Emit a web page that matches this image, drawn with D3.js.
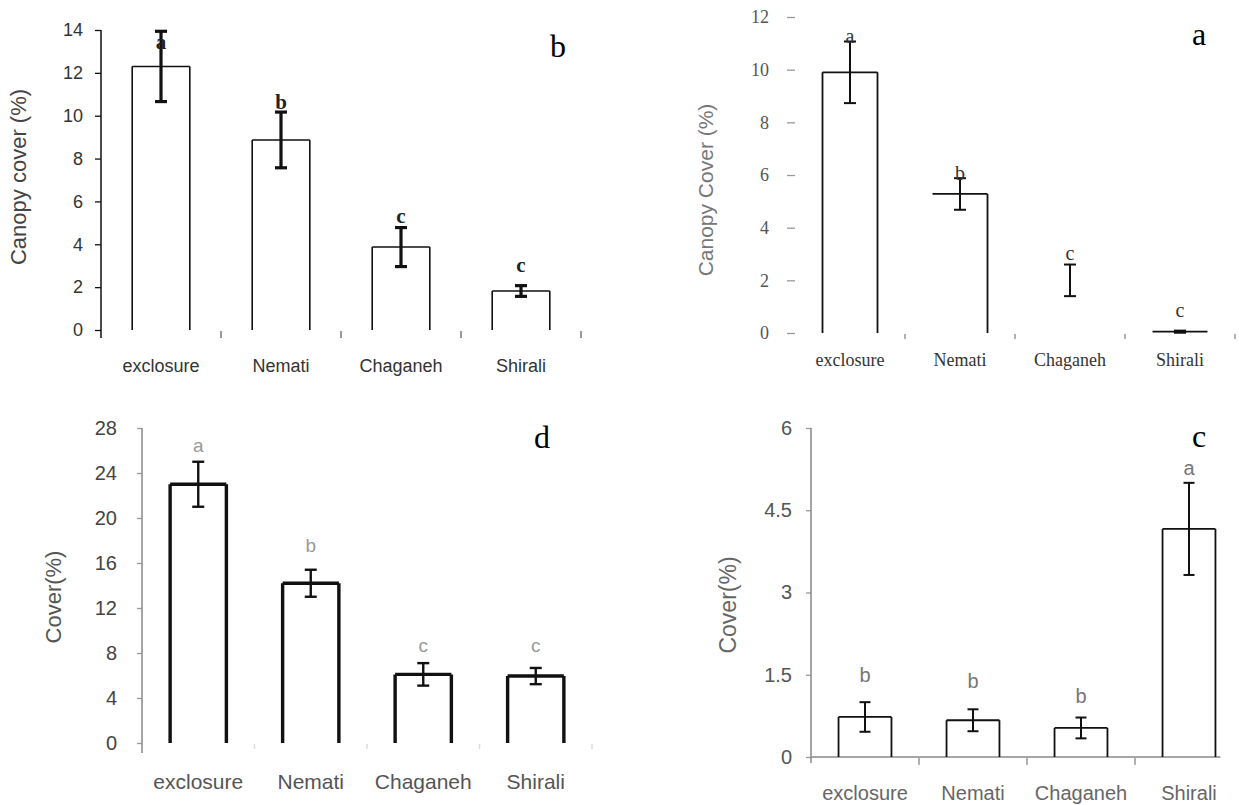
<!DOCTYPE html>
<html>
<head>
<meta charset="utf-8">
<script src="https://cdn.jsdelivr.net/npm/d3@7"></script>
<style>
  html, body { margin: 0; padding: 0; background: #fff; }
  svg { display: block; }
</style>
</head>
<body>
<svg id="chart" width="1239" height="805"></svg>
<script>
// ---------------- data ----------------
const categories = ["exclosure", "Nemati", "Chaganeh", "Shirali"];

// panel b (top-left): canopy cover
const coverB   = [12.3, 8.87, 3.87, 1.82];
const errB     = [1.64, 1.30, 0.91, 0.25];
const lettersB = ["a", "b", "c", "c"];
const letterAtB = [13.1, 10.3, 5.0, 2.7];
const ticksB   = [0, 2, 4, 6, 8, 10, 12, 14];

// panel a (top-right): canopy cover
const coverA   = [9.9, 5.28, 2.0, 0.05];
const errA     = [1.17, 0.60, 0.60, 0.04];
const lettersA = ["a", "b", "c", "c"];
const letterAtA = [11.0, 5.8, 2.77, 0.61];
const ticksA   = [0, 2, 4, 6, 8, 10, 12];

// panel d (bottom-left): cover
const coverD   = [23.0, 14.2, 6.1, 5.95];
const errD     = [2.0, 1.2, 1.0, 0.72];
const lettersD = ["a", "b", "c", "c"];
const letterAtD = [25.9, 17.0, 8.1, 8.1];
const ticksD   = [0, 4, 8, 12, 16, 20, 24, 28];

// panel c (bottom-right): cover
const coverC   = [0.73, 0.67, 0.53, 4.16];
const errC     = [0.27, 0.20, 0.19, 0.84];
const lettersC = ["b", "b", "b", "a"];
const letterAtC = [1.37, 1.26, 0.99, 5.15];
const ticksC   = [0, 1.5, 3, 4.5, 6];

// ---------------- layout / styles ----------------
const SANS = "'Liberation Sans', Arial, sans-serif";
const SERIF = "'Liberation Serif', 'Times New Roman', serif";

const panels = [
  { tag: "b", values: coverB, errors: errB, letters: lettersB, letterAt: letterAtB, ticks: ticksB,
    yTitle: "Canopy cover (%)",
    left: 101, right: 581, top: 30, base: 330, barFrac: 0.48,
    axisLine: "#111", axisExtBelow: 8, tickLen: 6, tickPad: 12, tickColor: "#111",
    tickFont: SANS, tickSize: 18, tickText: "#333",
    xTickColor: "#777", xTickLen: 8, xAxisLine: null,
    xLabelY: 367, xLabelFont: SANS, xLabelSize: 18, xLabelColor: "#333",
    titleX: 20, titleY: 177, titleSize: 22, titleColor: "#444", titleFont: SANS,
    barStroke: 1.6, edges: ["ltr", "ltr", "ltr", "ltr"],
    errStroke: 3.2, capW: 12, errColor: "#111",
    letterFont: SERIF, letterSize: 21, letterColor: "#222", letterWeight: "bold",
    panelX: 558, panelY: 57 },
  { tag: "a", values: coverA, errors: errA, letters: lettersA, letterAt: letterAtA, ticks: ticksA,
    yTitle: "Canopy Cover (%)",
    left: 795, right: 1235, top: 17, base: 333, barFrac: 0.5,
    axisLine: null, axisExtBelow: 0, tickLen: 8, tickPad: 18, tickColor: "#999",
    tickFont: SERIF, tickSize: 18, tickText: "#555",
    xTickColor: "#999", xTickLen: 6, xAxisLine: null,
    xLabelY: 362, xLabelFont: SERIF, xLabelSize: 18, xLabelColor: "#333",
    titleX: 707, titleY: 190, titleSize: 21, titleColor: "#777", titleFont: SANS,
    barStroke: 1.8, edges: ["ltr", "tr", "", "t"],
    errStroke: 2, capW: 12, errColor: "#111",
    letterFont: SERIF, letterSize: 20, letterColor: "#333", letterWeight: "normal",
    panelX: 1199, panelY: 45 },
  { tag: "d", values: coverD, errors: errD, letters: lettersD, letterAt: letterAtD, ticks: ticksD,
    yTitle: "Cover(%)",
    left: 142, right: 592, top: 428, base: 743, barFrac: 0.5,
    axisLine: "#888", axisExtBelow: 10, tickLen: 5, tickPad: 20, tickColor: "#999",
    tickFont: SANS, tickSize: 20, tickText: "#444",
    xTickColor: "#ddd", xTickLen: 6, xAxisLine: null,
    xLabelY: 783, xLabelFont: SANS, xLabelSize: 21, xLabelColor: "#555",
    titleX: 55, titleY: 597, titleSize: 22, titleColor: "#555", titleFont: SANS,
    barStroke: 3.4, edges: ["ltr", "ltr", "ltr", "ltr"],
    errStroke: 2.4, capW: 12, errColor: "#111",
    letterFont: SANS, letterSize: 19, letterColor: "#999", letterWeight: "normal",
    panelX: 542, panelY: 448 },
  { tag: "c", values: coverC, errors: errC, letters: lettersC, letterAt: letterAtC, ticks: ticksC,
    yTitle: "Cover(%)",
    left: 811, right: 1243, top: 428, base: 757, barFrac: 0.49,
    axisLine: "#888", axisExtBelow: 6, tickLen: 5, tickPad: 14, tickColor: "#999",
    tickFont: SANS, tickSize: 20, tickText: "#555",
    xTickColor: "#999", xTickLen: 8, xAxisLine: "#888",
    xLabelY: 795, xLabelFont: SANS, xLabelSize: 20, xLabelColor: "#666",
    titleX: 730, titleY: 605, titleSize: 23, titleColor: "#666", titleFont: SANS,
    barStroke: 1.8, edges: ["ltr", "ltr", "ltr", "ltr"],
    errStroke: 2, capW: 11, errColor: "#111",
    letterFont: SANS, letterSize: 20, letterColor: "#777", letterWeight: "normal",
    panelX: 1199, panelY: 447 }
];

const svg = d3.select("#chart");
svg.append("rect").attr("width", 1239).attr("height", 805).attr("fill", "#fff");

function drawPanel(p) {
  const g = svg.append("g").attr("class", "panel-" + p.tag);
  const x = d3.scaleBand().domain(categories).range([p.left, p.right]).padding(0);
  const y = d3.scaleLinear().domain([0, d3.max(p.ticks)]).range([p.base, p.top]);
  const bw = x.bandwidth() * p.barFrac;
  const cx = c => x(c) + x.bandwidth() / 2;

  // y axis
  const yAxis = d3.axisLeft(y)
    .tickValues(p.ticks)
    .tickSize(p.tickLen)
    .tickSizeOuter(0)
    .tickPadding(p.tickPad)
    .tickFormat(d => String(d));
  const ya = g.append("g").attr("transform", `translate(${p.left},0)`).call(yAxis);
  ya.select(".domain").remove();
  ya.selectAll(".tick line").attr("stroke", p.tickColor).attr("stroke-width", 1.3);
  ya.selectAll(".tick text")
    .attr("font-family", p.tickFont).attr("font-size", p.tickSize)
    .attr("fill", p.tickText);
  if (p.axisLine) {
    g.append("line")
      .attr("x1", p.left).attr("x2", p.left)
      .attr("y1", y(d3.max(p.ticks))).attr("y2", y(0) + p.axisExtBelow)
      .attr("stroke", p.axisLine).attr("stroke-width", 1.5);
  }

  // x axis baseline (only where the original shows it)
  const lastRight = cx(categories[categories.length - 1]) + bw / 2 + 5;
  if (p.xAxisLine) {
    g.append("line")
      .attr("x1", p.left).attr("x2", lastRight)
      .attr("y1", y(0)).attr("y2", y(0))
      .attr("stroke", p.xAxisLine).attr("stroke-width", 1.5);
  }
  // category boundary ticks
  g.selectAll(".xtick").data(categories).join("line")
    .attr("class", "xtick")
    .attr("x1", c => x(c) + x.bandwidth()).attr("x2", c => x(c) + x.bandwidth())
    .attr("y1", y(0) + 1).attr("y2", y(0) + p.xTickLen)
    .attr("stroke", p.xTickColor).attr("stroke-width", 1.5);

  // x labels
  g.selectAll(".xlab").data(categories).join("text")
    .attr("class", "xlab")
    .attr("x", c => cx(c)).attr("y", p.xLabelY)
    .attr("text-anchor", "middle").attr("dominant-baseline", "middle")
    .attr("font-family", p.xLabelFont).attr("font-size", p.xLabelSize)
    .attr("fill", p.xLabelColor)
    .text(c => c);

  // y title
  g.append("text")
    .attr("transform", `translate(${p.titleX},${p.titleY}) rotate(-90)`)
    .attr("text-anchor", "middle").attr("dominant-baseline", "middle")
    .attr("font-family", p.titleFont).attr("font-size", p.titleSize)
    .attr("fill", p.titleColor)
    .text(p.yTitle);

  // bars (open rectangles, bottom edge not drawn)
  g.selectAll(".bar").data(categories).join("path")
    .attr("class", "bar")
    .attr("fill", "none").attr("stroke", "#111").attr("stroke-width", p.barStroke)
    .attr("d", (c, i) => {
      const x0 = cx(c) - bw / 2, x1 = cx(c) + bw / 2;
      const y0 = y(0), y1 = y(p.values[i]);
      const e = p.edges[i];
      let d = "";
      if (e.includes("l")) d += `M${x0},${y0}L${x0},${y1}`;
      if (e.includes("t")) d += `M${x0},${y1}L${x1},${y1}`;
      if (e.includes("r")) d += `M${x1},${y1}L${x1},${y0}`;
      return d || "M0,0";
    })
    .attr("stroke-opacity", (c, i) => p.edges[i] ? 1 : 0);

  // error bars
  const eg = g.selectAll(".err").data(categories).join("g").attr("class", "err")
    .attr("stroke", p.errColor).attr("stroke-width", p.errStroke);
  eg.append("line")
    .attr("x1", c => cx(c)).attr("x2", c => cx(c))
    .attr("y1", (c, i) => y(p.values[i] + p.errors[i]))
    .attr("y2", (c, i) => y(Math.max(0, p.values[i] - p.errors[i])));
  eg.append("line")
    .attr("x1", c => cx(c) - p.capW / 2).attr("x2", c => cx(c) + p.capW / 2)
    .attr("y1", (c, i) => y(p.values[i] + p.errors[i]))
    .attr("y2", (c, i) => y(p.values[i] + p.errors[i]));
  eg.append("line")
    .attr("x1", c => cx(c) - p.capW / 2).attr("x2", c => cx(c) + p.capW / 2)
    .attr("y1", (c, i) => y(Math.max(0, p.values[i] - p.errors[i])))
    .attr("y2", (c, i) => y(Math.max(0, p.values[i] - p.errors[i])));

  // significance letters
  g.selectAll(".sig").data(categories).join("text")
    .attr("class", "sig")
    .attr("x", c => cx(c)).attr("y", (c, i) => y(p.letterAt[i]))
    .attr("text-anchor", "middle")
    .attr("font-family", p.letterFont).attr("font-size", p.letterSize)
    .attr("font-weight", p.letterWeight)
    .attr("fill", p.letterColor)
    .text((c, i) => p.letters[i]);

  // panel letter
  g.append("text")
    .attr("x", p.panelX).attr("y", p.panelY)
    .attr("text-anchor", "middle")
    .attr("font-family", SERIF).attr("font-size", 32)
    .attr("fill", "#000")
    .text(p.tag);
}

panels.forEach(drawPanel);
</script>
</body>
</html>
